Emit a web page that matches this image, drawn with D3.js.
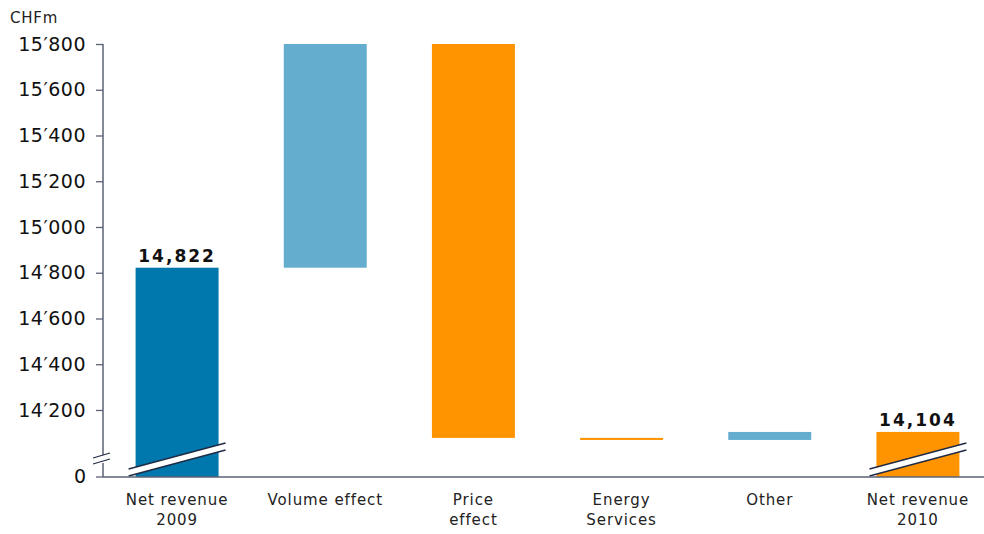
<!DOCTYPE html>
<html>
<head>
<meta charset="utf-8">
<script src="https://cdn.jsdelivr.net/npm/d3@7"></script>
<style>
  html, body { margin: 0; padding: 0; background: #fff; }
  svg { display: block; }
  text { font-family: "DejaVu Sans", Verdana, sans-serif; }
</style>
</head>
<body>
<svg id="chart" width="984" height="534"></svg>
<script>
// ---- data ----
const categories = ["Net revenue\n2009", "Volume effect", "Price\neffect", "Energy\nServices", "Other", "Net revenue\n2010"];
const kinds = ["total", "delta", "delta", "delta", "delta", "total"];
const values = [14822, 978, -1722, -9, 35, 14104];
const totalLabels = ["14,822", null, null, null, null, "14,104"];
const yTickValues = [14200, 14400, 14600, 14800, 15000, 15200, 15400, 15600, 15800];
const yTickLabels = ["14\u2032200", "14\u2032400", "14\u2032600", "14\u2032800", "15\u2032000", "15\u2032200", "15\u2032400", "15\u2032600", "15\u2032800"];
const baseLabel = "0";
const unitLabel = "CHFm";
const axisBase = 13907;   // value shown at the broken baseline ("0")
const axisTop = 15800;

// ---- colours ----
const colTotal2009 = "#0077ad";
const colUp = "#64adcf";
const colDown = "#ff9300";
const colAxis = "#5b6275";
const colBreak = "#1f2a44";

const svg = d3.select("#chart");
const x = d3.scaleBand().domain(categories).range([103, 992]).paddingInner(0.44).paddingOuter(0.22);
const y = d3.scaleLinear().domain([axisBase, axisTop]).range([477, 44]);

// compute waterfall segments
let running = 0;
const bars = categories.map((c, i) => {
  let lo, hi, color;
  if (kinds[i] === "total") {
    lo = axisBase; hi = values[i]; running = values[i];
    color = i === 0 ? colTotal2009 : colDown;
  } else {
    const start = running, end = running + values[i];
    lo = Math.min(start, end); hi = Math.max(start, end);
    color = values[i] >= 0 ? colUp : colDown;
    running = end;
  }
  return { c, i, lo, hi, color, kind: kinds[i] };
});

svg.append("g").selectAll("rect").data(bars).join("rect")
  .attr("x", d => x(d.c))
  .attr("width", x.bandwidth())
  .attr("y", d => y(d.hi))
  .attr("height", d => Math.max(2, y(d.lo) - y(d.hi)))
  .attr("fill", d => d.color);

// break bands on total bars
const totals = bars.filter(d => d.kind === "total");
const bw = x.bandwidth();
totals.forEach(d => {
  const x0 = x(d.c) - 7, x1 = x(d.c) + bw + 7;
  const g = svg.append("g");
  g.append("path")
    .attr("d", `M${x0},${469}L${x1},${443}L${x1},${450}L${x0},${476}Z`)
    .attr("fill", "#fff");
  g.append("line").attr("x1", x0).attr("y1", 469).attr("x2", x1).attr("y2", 443)
    .attr("stroke", colBreak).attr("stroke-width", 1.3);
  g.append("line").attr("x1", x0).attr("y1", 476).attr("x2", x1).attr("y2", 450)
    .attr("stroke", colBreak).attr("stroke-width", 1.3);
});
svg.append("rect").attr("x", 100).attr("y", 478).attr("width", 884).attr("height", 10).attr("fill", "#fff");

// value labels
svg.append("g").selectAll("text").data(bars.filter(d => totalLabels[d.i])).join("text")
  .attr("x", d => x(d.c) + bw / 2)
  .attr("y", d => y(d.hi) - 6)
  .attr("text-anchor", "middle")
  .attr("font-size", 17)
  .attr("font-weight", "bold")
  .attr("letter-spacing", 2)
  .attr("fill", "#111")
  .text(d => totalLabels[d.i]);

// y axis
const axisX = 103;
const yAxis = d3.axisLeft(y).tickValues(yTickValues)
  .tickFormat((v, i) => yTickLabels[i]).tickSize(7).tickPadding(10);
const gy = svg.append("g").attr("transform", `translate(${axisX},0)`).call(yAxis);
gy.select(".domain").remove();
gy.selectAll(".tick line").attr("stroke", colAxis).attr("stroke-width", 1.3);
gy.selectAll(".tick text").attr("font-size", 19).attr("fill", "#111").attr("letter-spacing", 0.5)
  .attr("font-family", "DejaVu Sans, Verdana, sans-serif");
svg.append("line").attr("x1", axisX).attr("x2", axisX).attr("y1", y(axisTop)).attr("y2", 455)
  .attr("stroke", colAxis).attr("stroke-width", 1.5);
svg.append("line").attr("x1", axisX).attr("x2", axisX).attr("y1", 463).attr("y2", y(axisBase))
  .attr("stroke", colAxis).attr("stroke-width", 1.5);
svg.append("line").attr("x1", 93).attr("y1", 458).attr("x2", 110).attr("y2", 453)
  .attr("stroke", colBreak).attr("stroke-width", 1.2);
svg.append("line").attr("x1", 93).attr("y1", 464).attr("x2", 110).attr("y2", 459)
  .attr("stroke", colBreak).attr("stroke-width", 1.2);
svg.append("line").attr("x1", axisX - 7).attr("x2", axisX).attr("y1", y(axisBase)).attr("y2", y(axisBase))
  .attr("stroke", colAxis).attr("stroke-width", 1.3);
svg.append("text").attr("x", axisX - 17).attr("y", y(axisBase)).attr("dy", "0.32em")
  .attr("text-anchor", "end").attr("font-size", 19).attr("fill", "#111").text(baseLabel);

// x axis line
svg.append("line").attr("x1", axisX).attr("x2", 984).attr("y1", y(axisBase)).attr("y2", y(axisBase))
  .attr("stroke", colAxis).attr("stroke-width", 1.5);

// category labels
const cl = svg.append("g").selectAll("text").data(categories).join("text")
  .attr("x", d => x(d) + bw / 2)
  .attr("y", 505)
  .attr("text-anchor", "middle")
  .attr("font-size", 15)
  .attr("letter-spacing", 0.9)
  .attr("fill", "#222");
cl.each(function(d) {
  const lines = d.split("\n");
  const t = d3.select(this);
  lines.forEach((ln, k) => {
    t.append("tspan").attr("x", x(d) + bw / 2).attr("dy", k === 0 ? 0 : 20).text(ln);
  });
});

// unit label
svg.append("text").attr("x", 10).attr("y", 23).attr("font-size", 15).attr("letter-spacing", 0.8)
  .attr("fill", "#222").text(unitLabel);
</script>
</body>
</html>
